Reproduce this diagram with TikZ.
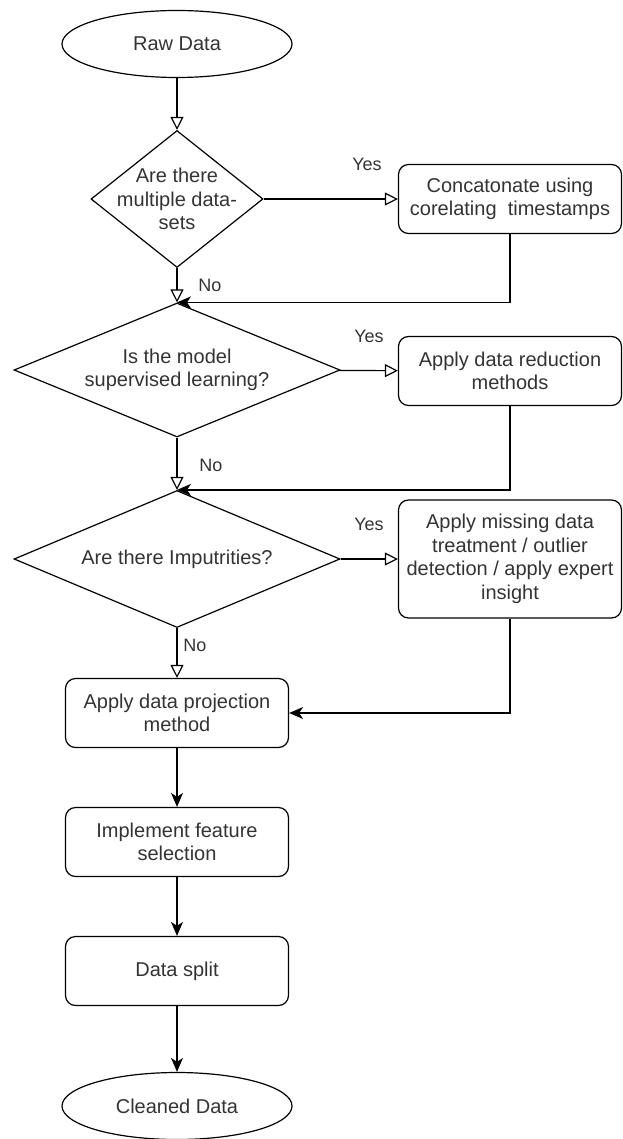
\documentclass[tikz,border=0pt]{standalone}
\usepackage{fontspec}
\setmainfont{Liberation Sans}
\usetikzlibrary{arrows.meta,shapes.geometric}
\tikzset{
    every node/.style={align=center, font=\fontsize{10}{11.8}\selectfont, text=black!80,},
    terminal/.style={draw, ellipse, minimum width=115pt, minimum height=33.5pt,},
    decision/.style={draw, diamond, inner sep=0pt,},
    process/.style={draw, rectangle, rounded corners=5pt, minimum width=111.5pt, minimum height=34.5pt,},
    answer/.style={font=\fontsize{9}{10}\selectfont,},
    openflow/.style={-{Triangle[open, length=6.5pt, width=6.5pt]},},
    fillflow/.style={-{Stealth[length=7pt, width=6pt, inset=2pt]},},
}

\begin{document}
\begin{tikzpicture}[x=0.5pt, y=-0.5pt, line width=0.6pt]
                \useasboundingbox (0, 0) rectangle (622, 1139);

                \node[terminal] (raw) at (177, 44) {Raw Data};

                \node[decision, minimum width=86pt, minimum height=68.5pt,
                    label=center:{Are there\\multiple data-\\sets}] (multi) at (177, 199) {};
                \node[process] (concat) at (510, 199) {Concatonate using\\corelating\ \ timestamps};

                \node[decision, minimum width=163pt, minimum height=67pt,
                    label=center:{Is the model\\supervised learning?}] (supervised) at (177, 370) {};
                \node[process] (reduce) at (510, 371) {Apply data reduction\\methods};

                \node[decision, minimum width=163pt, minimum height=68.5pt,
                    label=center:{Are there Imputrities?}] (impure) at (177, 559) {};
                \node[process, minimum height=59pt] (missing) at (510, 559) {Apply missing data\\treatment / outlier\\detection / apply expert\\insight};

                \node[process] (project) at (177, 713) {Apply data projection\\method};
                \node[process] (select) at (177, 842) {Implement feature\\selection};
                \node[process] (split) at (177, 971) {Data split};

                \node[terminal] (cleaned) at (177, 1106) {Cleaned Data};

                % answers
                \node[answer] (yes1) at (367, 164) {Yes};
                \node[answer] (no1) at (210, 285) {No};
                \node[answer] (yes2) at (369, 336) {Yes};
                \node[answer] (no2) at (211, 465) {No};
                \node[answer] (yes3) at (369, 524) {Yes};
                \node[answer] (no3) at (195, 645) {No};

                \draw[openflow] (raw) to (multi);
                \draw[openflow] (multi) to (concat);
                \draw[openflow] (multi) to (supervised);
                \draw[fillflow] (concat.south) |- (supervised.north);

                \draw[openflow] (supervised) to (reduce);
                \draw[openflow] (supervised) to (impure);
                \draw[fillflow] (reduce.south) |- (impure.north);

                \draw[openflow] (impure) to (missing);
                \draw[openflow] (impure) to (project);
                \draw[fillflow] (missing.south) |- (project.east);

                \draw[fillflow] (project) to (select);
                \draw[fillflow] (select) to (split);
                \draw[fillflow] (split) to (cleaned);
            \end{tikzpicture}
\end{document}
